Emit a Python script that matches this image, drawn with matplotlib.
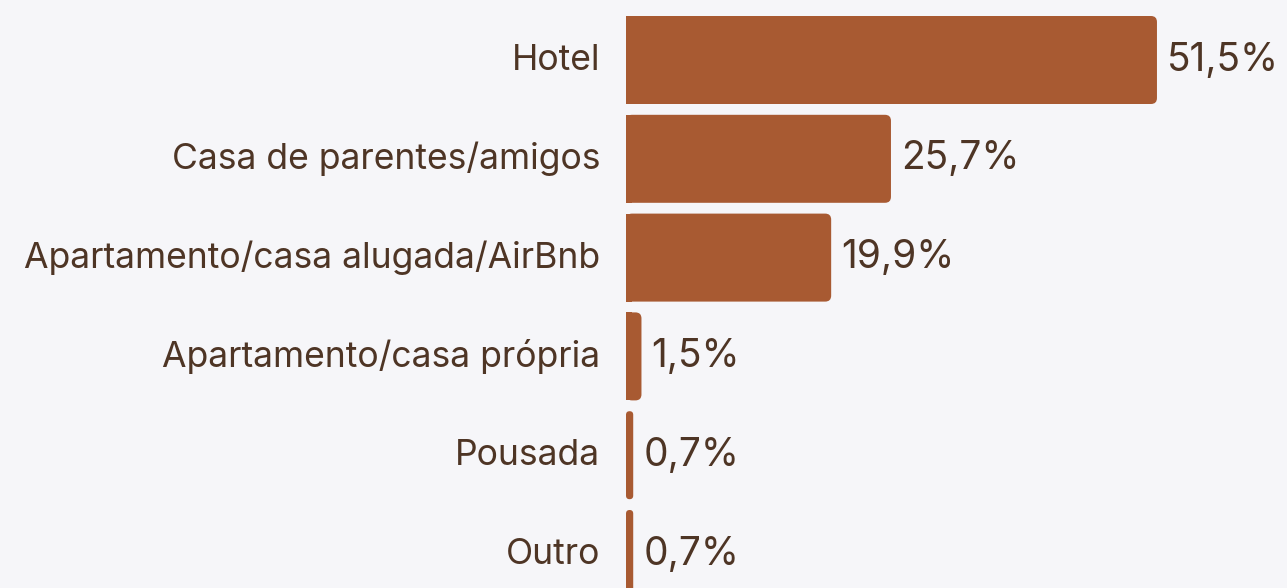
import matplotlib.pyplot as plt
from matplotlib.patches import FancyBboxPatch

categorias = ["Hotel", "Casa de parentes/amigos", "Apartamento/casa alugada/AirBnb",
              "Apartamento/casa própria", "Pousada", "Outro"]
valores = [51.5, 25.7, 19.9, 1.5, 0.7, 0.7]
rotulos = ["51,5%", "25,7%", "19,9%", "1,5%", "0,7%", "0,7%"]

fundo = "#f6f6f9"
cor_barra = "#a85a32"
cor_texto = "#4e3525"

plt.rcParams['font.family'] = ['Inter', 'DejaVu Sans']

W, H = 1287, 588
fig = plt.figure(figsize=(W / 100, H / 100), dpi=100, facecolor=fundo)
ax = fig.add_axes([626 / W, 0, 1 - 626 / W, 1], facecolor=fundo)

px_x = 10.31          # pixels per percent
pitch = 98.8          # pixels between bars
ax.set_xlim(0, (W - 626) / px_x)
ax.set_ylim((H - 60) / pitch, -60 / pitch)

altura = 88 / pitch
bars = ax.barh(range(len(valores)), valores, height=altura, color=cor_barra)

# trocar por barras arredondadas (só lado direito)
raio = 6 / px_x
aspecto = px_x / pitch
for b in bars:
    x0, y0 = b.get_x(), b.get_y()
    w, h = b.get_width(), b.get_height()
    b.set_visible(False)
    r = min(raio, w / 2)
    p = FancyBboxPatch((x0, y0), w, h, boxstyle=f"round,pad=0,rounding_size={r}",
                       mutation_aspect=aspecto, facecolor=cor_barra, edgecolor="none")
    ax.add_patch(p)
    if w > 2 * r:
        ax.add_patch(plt.Rectangle((x0, y0), r, h, facecolor=cor_barra, edgecolor="none"))

for i, (v, t) in enumerate(zip(valores, rotulos)):
    ax.text(v + 10 / px_x, i, t, va="center", ha="left", fontsize=28, color=cor_texto)
    ax.text(-26 / px_x, i, categorias[i], va="center", ha="right", fontsize=25.6, color=cor_texto)

ax.set_xticks([])
ax.set_yticks([])
for s in ax.spines.values():
    s.set_visible(False)

fig.savefig("out.png", dpi=100, facecolor=fundo)
